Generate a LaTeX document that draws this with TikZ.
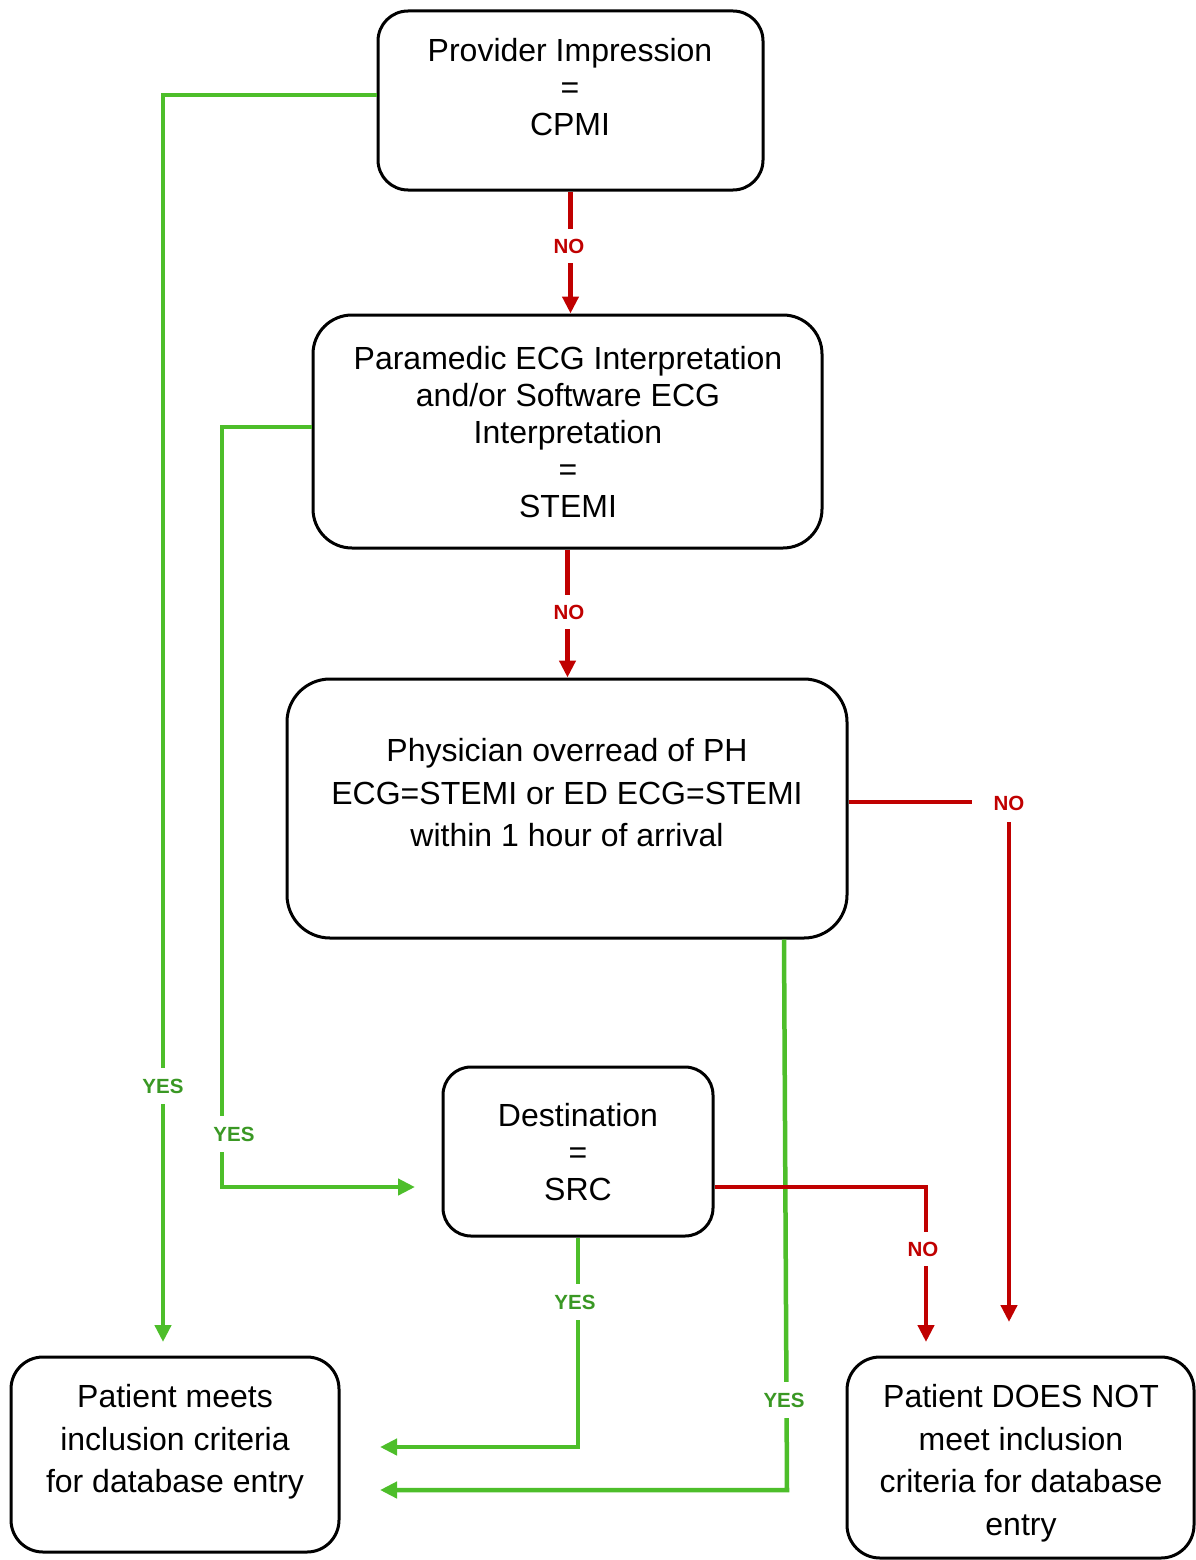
\documentclass[tikz,border=0pt]{standalone}
\usepackage{fontspec}
\setmainfont{Liberation Sans}
\usetikzlibrary{arrows.meta}

\definecolor{noRed}{RGB}{192,0,0}
\definecolor{yesGreen}{RGB}{77,190,42}
\definecolor{yesText}{RGB}{58,152,36}

\tikzset{every picture/.style={line width=0.75pt}}
\tikzset{
  procbox/.style={draw, line width=3pt, inner sep=0pt},
  boxtext/.style={align=center, inner sep=0pt, font=\fontsize{32}{37}\selectfont},
  boxtextwide/.style={align=center, inner sep=0pt, font=\fontsize{32}{42.5}\selectfont},
  nolink/.style={draw=noRed, line width=4.5pt, -{Triangle[length=17pt,width=16pt]}},
  yeslink/.style={draw=yesGreen, line width=4.5pt, -{Triangle[length=17pt,width=16pt]}},
  nolabel/.style={fill=white, text=noRed, inner xsep=4pt, inner ysep=10pt, font=\fontsize{20.5}{24}\selectfont\bfseries},
  yeslabel/.style={fill=white, text=yesText, inner xsep=4pt, inner ysep=11pt, font=\fontsize{20.5}{24}\selectfont\bfseries},
}

\begin{document}
\begin{tikzpicture}[x=1pt,y=1pt,yscale=-1]
\useasboundingbox (0,0) rectangle (1196,1560);

%Flowchart: Alternative Process
\node [procbox, rounded corners=30pt, minimum width=385pt, minimum height=179pt] (impr) at (570.5,100.5) {};
\node [procbox, rounded corners=39pt, minimum width=509pt, minimum height=233pt] (paramedic) at (567.5,431.5) {};
\node [procbox, rounded corners=43pt, minimum width=560pt, minimum height=259pt] (overread) at (567,808.5) {};
\node [procbox, rounded corners=28pt, minimum width=270pt, minimum height=169pt] (dest) at (578,1151.5) {};
\node [procbox, rounded corners=32pt, minimum width=328pt, minimum height=195pt] (meets) at (175,1454.5) {};
\node [procbox, rounded corners=33pt, minimum width=347pt, minimum height=201pt] (notmeets) at (1020.5,1457.5) {};

% Text Node
\node [boxtext] (imprtxt) at (570,87) {Provider Impression\\=\\CPMI};
\node [boxtext] (paramedictxt) at (568,432) {Paramedic ECG Interpretation\\and/or Software ECG\\Interpretation\\=\\STEMI};
\node [boxtextwide] (overreadtxt) at (567,793) {Physician overread of PH\\ECG=STEMI or ED ECG=STEMI\\within 1 hour of arrival};
\node [boxtext] (desttxt) at (578,1152) {Destination\\=\\SRC};
\node [boxtextwide] (meetstxt) at (175,1442) {Patient meets\\inclusion criteria\\for database entry};
\node [boxtextwide] (notmeetstxt) at (1021,1463) {Patient DOES NOT\\meet inclusion\\criteria for database\\entry};

% free ends
\coordinate (yesEnd1) at (163,1342);
\coordinate (yesBend2) at (222,1187);
\coordinate (yesEnd2) at (415,1187);
\coordinate (yesEnd3) at (380,1447);
\coordinate (yesBend4) at (787,1490);
\coordinate (yesEnd4) at (380,1490);
\coordinate (noEnd3) at (1009,1322);
\coordinate (noEnd4) at (926,1342);

%Straight Lines: yes
\draw [yeslink] ([yshift=-5.5pt]impr.west) -| (yesEnd1);
\draw [yeslink] ([yshift=-4.5pt]paramedic.west) -| (yesBend2) -- (yesEnd2);
\draw [yeslink] (dest.south) |- (yesEnd3);
\draw [yeslink] ([xshift=217pt]overread.south) -- (yesBend4) -- (yesEnd4);

%Straight Lines: no
\draw [nolink] (impr.south) -- (impr.south |- paramedic.north);
\draw [nolink] (paramedic.south) -- (paramedic.south |- overread.north);
\draw [nolink] ([yshift=-6.5pt]overread.east) -| (noEnd3);
\draw [nolink] ([yshift=35.5pt]dest.east) -| (noEnd4);

% Text Node
\node [nolabel] (no1) at (569,246) {NO};
\node [nolabel] (no2) at (569,612) {NO};
\node [nolabel, inner xsep=22pt, inner ysep=12pt] (no3) at (1009,803) {NO};
\node [nolabel] (no4) at (923,1249) {NO};
\node [yeslabel] (yes1) at (163,1086) {YES};
\node [yeslabel] (yes2) at (234,1134) {YES};
\node [yeslabel] (yes3) at (575,1302) {YES};
\node [yeslabel] (yes4) at (784,1400) {YES};

\end{tikzpicture}
\end{document}
